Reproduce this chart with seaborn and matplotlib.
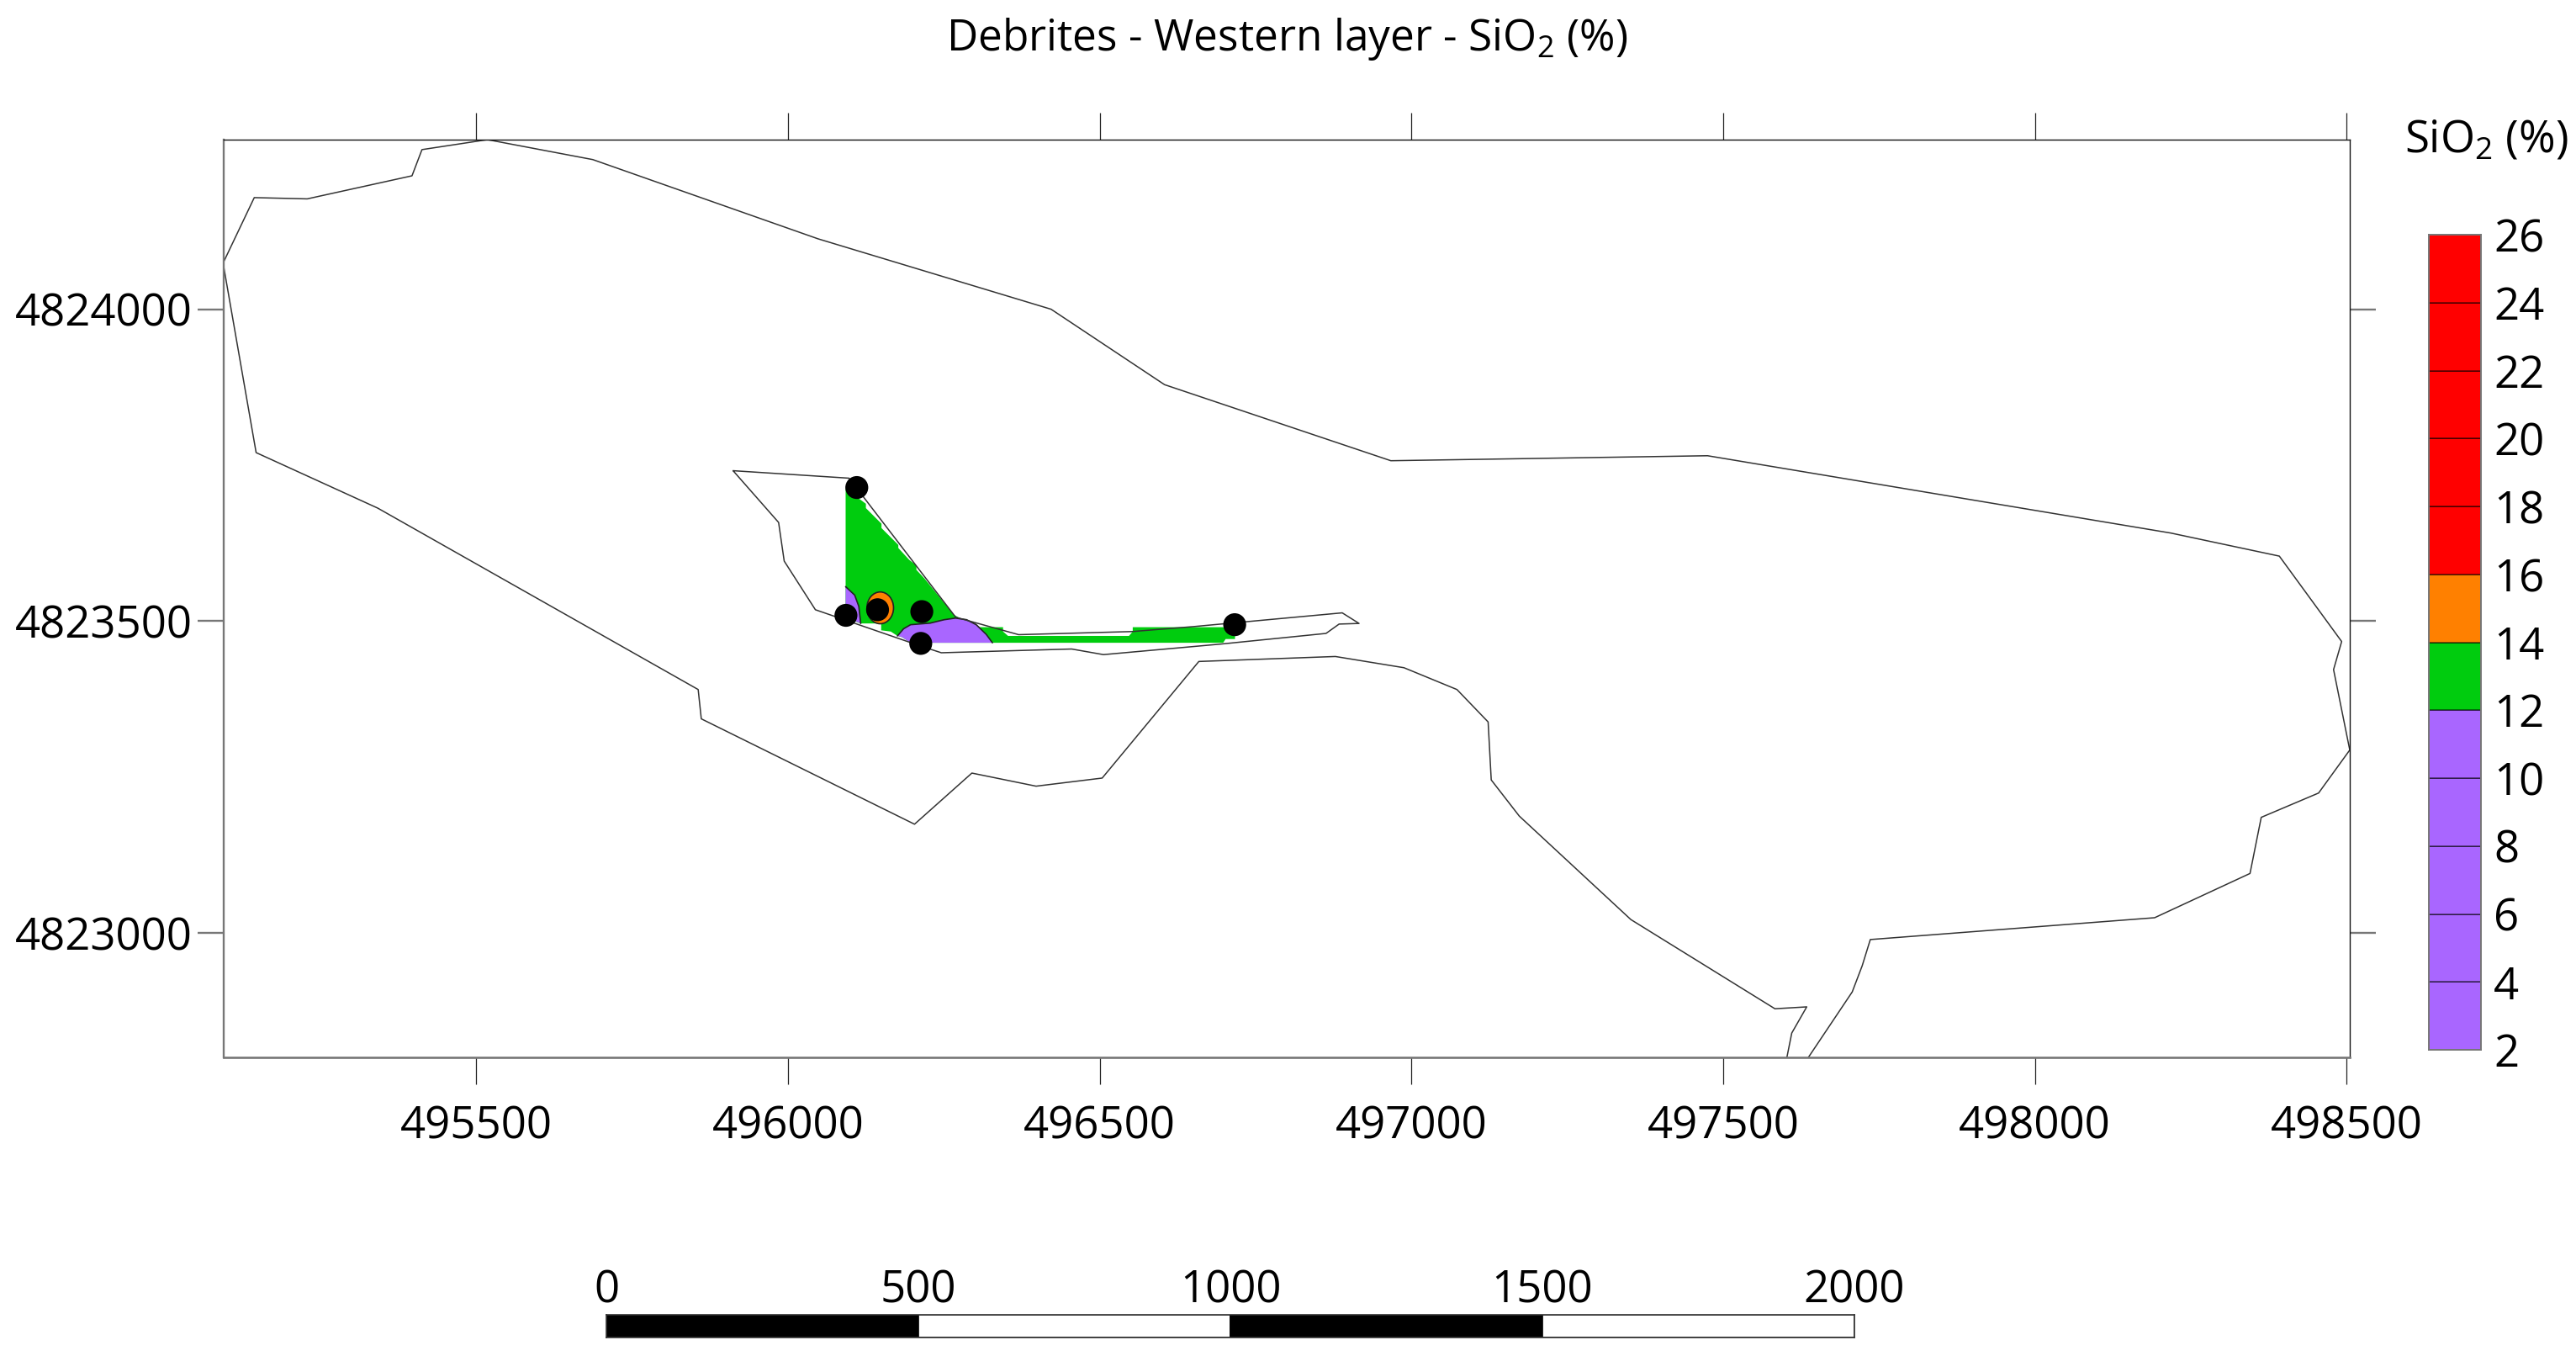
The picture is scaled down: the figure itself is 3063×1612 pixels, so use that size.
import matplotlib
matplotlib.use("Agg")
import matplotlib.pyplot as plt
from matplotlib.patches import Ellipse
import pandas as pd
import seaborn as sns

sns.set_theme(style="white")
plt.rcParams['font.family'] = ['Open Sans', 'DejaVu Sans']
plt.rcParams['mathtext.fontset'] = 'custom'
plt.rcParams['mathtext.rm'] = 'Open Sans'
plt.rcParams['mathtext.default'] = 'rm'

outer_x = [495094,495144,495229,495397,495413,495518,495687,496048,496422,496604,496967,497475,498218,498392,498492,498479,498505,498455,498363,498345,498192,497736,497723,497707,497636,497602,497610,497634,497583,497352,497173,497128,497123,497073,496988,496878,496659,496504,496398,496295,496203,495861,495856,495342,495147,495094]
outer_y = [4824074,4824179,4824177,4824214,4824256,4824272,4824240,4824113,4824000,4823879,4823757,4823765,4823641,4823604,4823467,4823422,4823293,4823224,4823185,4823095,4823024,4822989,4822947,4822905,4822799,4822799,4822839,4822881,4822878,4823021,4823187,4823245,4823338,4823390,4823425,4823443,4823435,4823248,4823235,4823256,4823174,4823343,4823390,4823681,4823770,4824074]

inner_x = [495912,496098,496269,496370,496552,496651,496889,496916,496884,496863,496695,496506,496455,496246,496212,496044,495994,495985,495912]
inner_y = [4823741,4823729,4823506,4823478,4823483,4823491,4823513,4823496,4823495,4823480,4823463,4823446,4823455,4823449,4823460,4823518,4823596,4823658,4823741]

green_x = [496092.5,496125,496125,496150,496150,496177,496177,496194.5,496206,496206,496219,496266,496282,496300,496307,496345,496345,496353,496547,496553,496553,496698,496717,496717,496702,496698,496197,496183,496175.6,496165,496149.5,496149.5,496116,496092.5]
green_y = [4823712,4823688,4823681,4823656,4823649,4823622,4823617,4823598,4823589,4823582,4823568,4823510,4823501,4823496,4823490,4823490,4823483,4823476,4823476,4823483,4823490,4823490,4823476,4823471,4823471,4823465,4823465,4823474,4823476,4823483,4823485,4823496,4823496,4823505.5]

purple_left_x = [496092.5,496107,496113.6,496116.7,496092.5]
purple_left_y = [4823555,4823541.5,4823523.5,4823496,4823505.5]

purple_lens_x = [496175.6,496185.5,496196.7,496228,496250.6,496268.6,496286.5,496302,496318,496328,496196.7,496183]
purple_lens_y = [4823476,4823487.5,4823494,4823496.5,4823502,4823504.6,4823502,4823494,4823478.5,4823465,4823465,4823474]

sample_x = [496110.4,496093,496143.7,496214.7,496213,496716.5]
sample_y = [4823714,4823509,4823518,4823515,4823464,4823494]

level_edges = [2,4,6,8,10,12,14,16,18,20,22,24,26]
level_colors = ['#A966FF']*5 + ['#00CC0E','#FF8000'] + ['#FF0000']*5
scale_edges = [0,500,1000,1500,2000]
scale_colors = ['black','white','black','white']

W, H = 3063, 1612
fig = plt.figure(figsize=(W/100, H/100), dpi=100)
ax = fig.add_axes([266/W, 1-1257/H, (2794-266)/W, (1257-166)/H])

ax.fill(green_x, green_y, color=level_colors[5], lw=0)
ax.fill(purple_left_x, purple_left_y, color=level_colors[0], lw=0)
ax.fill(purple_lens_x, purple_lens_y, color=level_colors[0], lw=0)
ax.plot(purple_left_x[:4], purple_left_y[:4], color='#222222', lw=1.2)
ax.plot(purple_lens_x[:10], purple_lens_y[:10], color='#222222', lw=1.2)
ax.add_patch(Ellipse((496148, 4823521), 42.7, 51, fc=level_colors[6], ec='#222222', lw=1.2))

for xs, ys in ((outer_x, outer_y), (inner_x, inner_y)):
    df = pd.DataFrame({'x': xs, 'y': ys})
    sns.lineplot(data=df, x='x', y='y', sort=False, estimator=None, color='#333333', lw=1.1, ax=ax)
sns.scatterplot(x=sample_x, y=sample_y, s=385, color='black', edgecolor='none', ax=ax, zorder=5, clip_on=False)

ax.set_xlim(495095, 498505)
ax.set_ylim(4822800, 4824272)
ax.set_xlabel('')
ax.set_ylabel('')
ax.set_xticks([495500,496000,496500,497000,497500,498000,498500])
ax.set_yticks([4823000,4823500,4824000])
ax.ticklabel_format(useOffset=False, style='plain')
ax.tick_params(axis='x', top=True, bottom=True, length=23, width=0.9, color='#222222',
               labelsize=38, labelcolor='black', pad=17)
ax.tick_params(axis='y', left=True, right=True, length=22, width=1.7, color='#777777',
               labelsize=38, labelcolor='black', pad=5)
for side, lw, col in (('top', 1.0, '#111111'), ('right', 1.0, '#111111'),
                      ('left', 1.7, '#777777'), ('bottom', 1.9, '#777777')):
    ax.spines[side].set_linewidth(lw)
    ax.spines[side].set_color(col)

fig.text(1530/W, 1-46/H, r'Debrites - Western layer - SiO$_2$ (%)', ha='center', va='center', fontsize=37, color='black')
fig.text(2956/W, 1-167/H, r'SiO$_2$ (%)', ha='center', va='center', fontsize=38, color='black')

cax = fig.add_axes([2888/W, 1-1248/H, (2950-2888)/W, (1248-279)/H])
cax.bar(x=[0]*len(level_colors), height=[b-a for a,b in zip(level_edges[:-1], level_edges[1:])],
        bottom=level_edges[:-1], width=1, color=level_colors, edgecolor=(0,0,0,0.55), linewidth=1.2)
cax.set_xlim(-0.5, 0.5)
cax.set_ylim(2, 26)
cax.set_xticks([])
cax.set_yticks(level_edges)
cax.yaxis.tick_right()
cax.tick_params(axis='y', right=False, left=False, labelsize=38, pad=5, labelcolor='black')
for s in cax.spines.values():
    s.set_linewidth(1.4)
    s.set_color('#777777')

sax = fig.add_axes([721/W, 1-1590/H, (2205-721)/W, (1590-1563)/H])
sax.bar(x=scale_edges[:-1], height=[1]*4, width=[b-a for a,b in zip(scale_edges[:-1], scale_edges[1:])],
        align='edge', color=scale_colors, edgecolor='black', linewidth=1.2)
sax.set_xlim(0, 2000)
sax.set_ylim(0, 1)
sax.set_yticks([])
sax.set_xticks(scale_edges)
sax.xaxis.tick_top()
sax.tick_params(axis='x', top=False, bottom=False, labelsize=38, pad=-5, labelcolor='black')
for s in sax.spines.values():
    s.set_linewidth(1.2)
    s.set_color('#333333')

fig.savefig('out.png', dpi=100, facecolor='white')
